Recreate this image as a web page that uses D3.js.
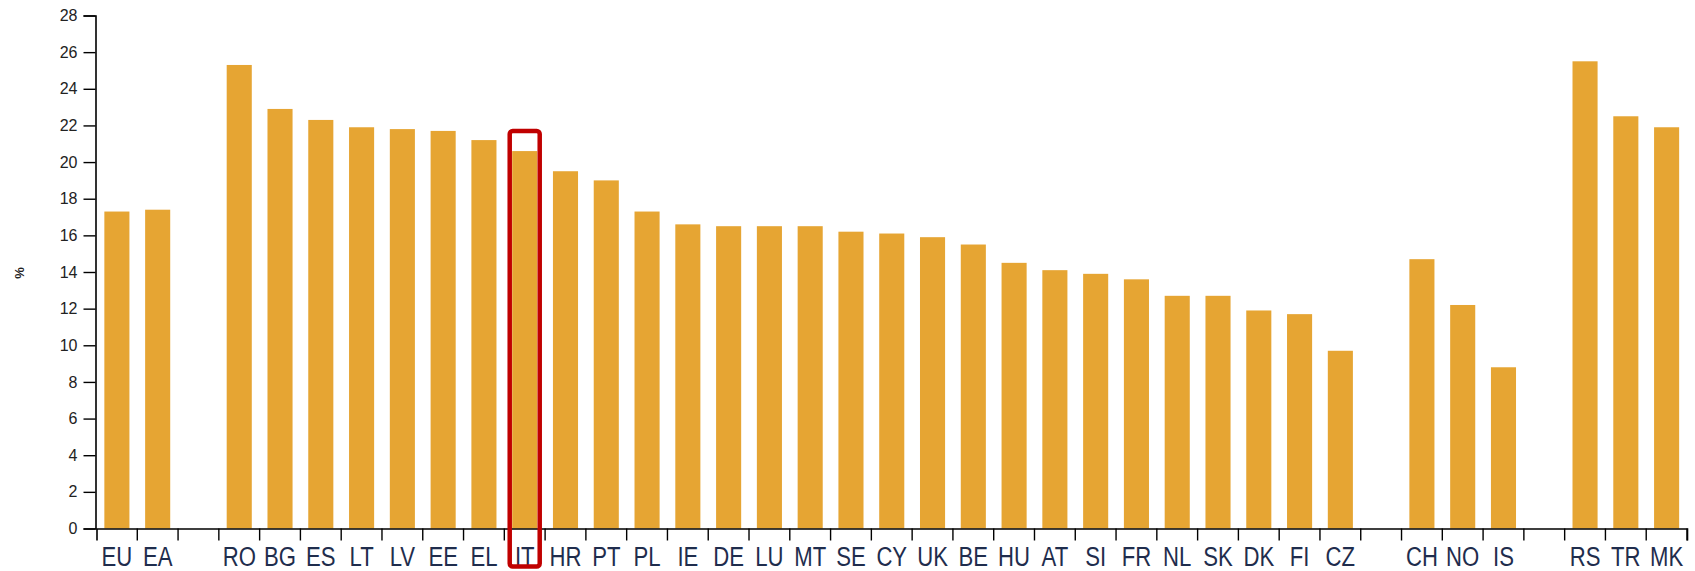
<!DOCTYPE html>
<html>
<head>
<meta charset="utf-8">
<script src="https://cdn.jsdelivr.net/npm/d3@7/dist/d3.min.js"></script>
<style>
  html, body { margin: 0; padding: 0; background: #fff; }
  svg { display: block; font-family: "Liberation Sans", Arial, sans-serif; }
</style>
</head>
<body>
<svg id="chart" width="1695" height="571"></svg>
<script>
const categories = ["EU","EA","gap1","RO","BG","ES","LT","LV","EE","EL","IT","HR","PT","PL","IE","DE","LU","MT","SE","CY","UK","BE","HU","AT","SI","FR","NL","SK","DK","FI","CZ","gap2","CH","NO","IS","gap3","RS","TR","MK"];
const values = [17.3,17.4,null,25.3,22.9,22.3,21.9,21.8,21.7,21.2,20.6,19.5,19.0,17.3,16.6,16.5,16.5,16.5,16.2,16.1,15.9,15.5,14.5,14.1,13.9,13.6,12.7,12.7,11.9,11.7,9.7,null,14.7,12.2,8.8,null,25.5,22.5,21.9];
const yTicks = [0,2,4,6,8,10,12,14,16,18,20,22,24,26,28];
const highlight = "IT";
const yLabel = "%";

const svg = d3.select("#chart");
const x = d3.scaleBand().domain(categories).range([96.5, 1687]).paddingInner(0).paddingOuter(0);
const y = d3.scaleLinear().domain([0, 28]).range([528.5, 15.5]);
const step = x.step();
const barW = step * 0.615;

// bars
const data = categories.map((c, i) => ({c, v: values[i]})).filter(d => d.v !== null);
svg.append("g").selectAll("rect").data(data).join("rect")
  .attr("x", d => x(d.c) + (step - barW) / 2)
  .attr("width", barW)
  .attr("y", d => y(d.v))
  .attr("height", d => y(0) - y(d.v))
  .attr("fill", "#E6A533");

// y axis
const yAxis = d3.axisLeft(y).tickValues(yTicks).tickSize(12).tickSizeOuter(12).tickPadding(6);
const gy = svg.append("g").attr("transform", "translate(95.5,0)").call(yAxis);
gy.select(".domain").attr("stroke", "#000").attr("stroke-width", 1.6);
gy.selectAll(".tick line").attr("stroke", "#000").attr("stroke-width", 1.4);
gy.selectAll(".tick text").attr("font-size", 16).attr("fill", "#222")
  .attr("font-family", "'Liberation Sans', Arial, sans-serif");

// x axis
const xAxis = d3.axisBottom(x).tickSize(12).tickSizeOuter(12).tickPadding(6)
  .tickFormat(d => d.startsWith("gap") ? "" : d);
const gx = svg.append("g").attr("transform", `translate(0,${y(0)})`).call(xAxis);
gx.select(".domain").attr("stroke", "#000").attr("stroke-width", 1.6);
gx.selectAll(".tick line").attr("x1", step / 2).attr("x2", step / 2)
  .attr("stroke", "#000").attr("stroke-width", 1.4);
gx.selectAll(".tick text").attr("font-size", 28).attr("fill", "#1f2d4d")
  .attr("font-family", "'Liberation Sans', Arial, sans-serif")
  .attr("transform", "scale(0.79,1)");

// y label
svg.append("text")
  .attr("transform", `translate(19,${(y(0) + y(28)) / 2 + 1}) rotate(-90)`)
  .attr("text-anchor", "middle")
  .attr("dy", "0.35em")
  .attr("font-size", 13)
  .attr("font-weight", "bold")
  .attr("fill", "#222")
  .text(yLabel);

// highlight box
const hv = values[categories.indexOf(highlight)];
const hcx = x(highlight) + step / 2;
svg.append("rect")
  .attr("x", hcx - 15)
  .attr("y", y(hv) - 20)
  .attr("width", 30)
  .attr("height", 566.5 - (y(hv) - 20))
  .attr("rx", 3)
  .attr("fill", "none")
  .attr("stroke", "#C00000")
  .attr("stroke-width", 4.5);
</script>
</body>
</html>
